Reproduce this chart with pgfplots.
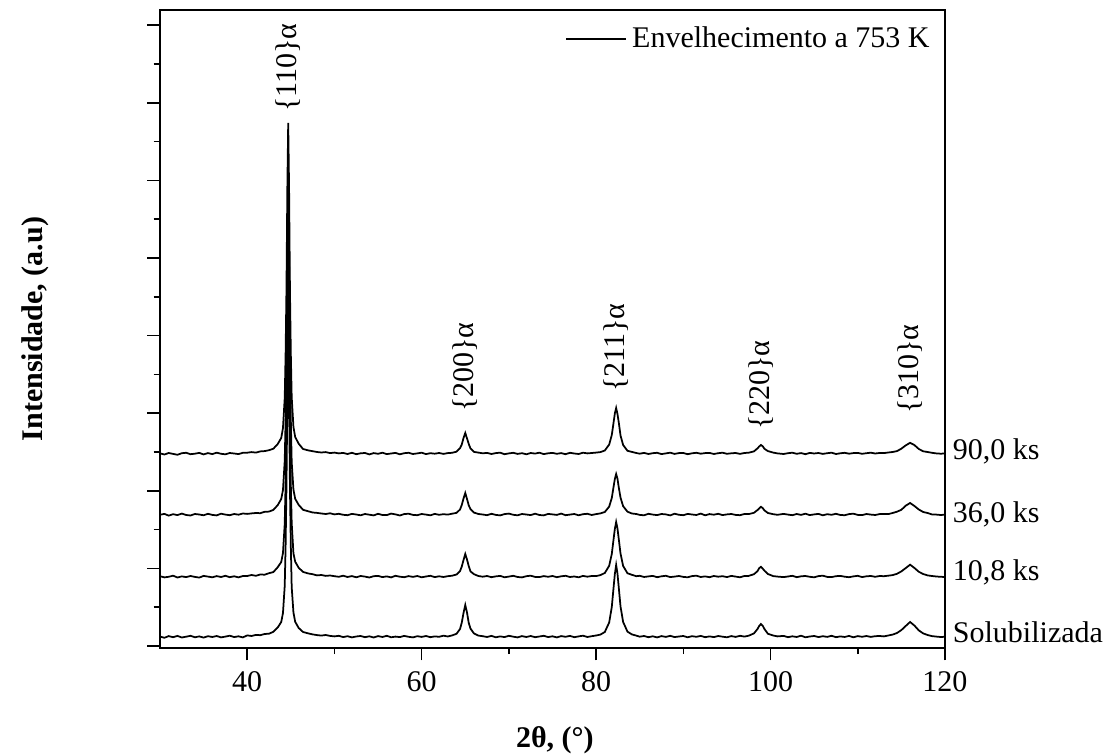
\documentclass[border=0pt]{standalone}
\usepackage{fontspec}
\setmainfont{Liberation Serif}
\usepackage{pgfplots}
\usepackage{pgfplotstable}
\pgfplotsset{compat=1.18}

% columns: 2theta, Solubilizada, 10,8 ks, 36,0 ks, 90,0 ks (already offset)
\pgfplotstableread{
x s0 s1 s2 s3
30.0 11.5 71.8 133.2 194.6
30.5 10.2 70.6 134.1 193.5
31.0 11.9 71.2 132.4 195.0
31.5 10.8 72.3 133.8 194.1
32.0 12.1 70.5 132.9 193.2
32.5 10.5 71.6 134.4 194.8
33.0 11.3 70.9 133.0 195.2
33.5 12.2 72.0 132.5 193.8
34.0 10.7 71.1 134.0 194.3
34.5 11.6 70.4 133.5 195.1
35.0 10.4 72.1 132.7 193.6
35.5 11.8 71.4 134.2 194.9
36.0 11.0 70.7 133.1 193.9
36.5 12.0 71.9 132.6 195.3
37.0 10.6 71.0 134.3 194.2
37.5 11.4 72.2 133.4 193.7
38.0 12.3 70.8 132.8 195.0
38.5 10.9 71.7 134.0 194.5
39.0 11.7 70.6 133.3 193.9
39.5 10.6 72.0 134.5 195.2
40.0 12.6 72.0 134.1 195.3
40.5 12.0 73.0 134.6 195.9
41.0 13.1 72.2 135.0 195.4
41.5 12.8 73.5 134.8 196.6
42.0 14.0 73.3 136.2 196.9
42.5 14.3 74.8 136.4 197.8
43.0 16.2 75.9 138.1 199.3
43.5 20.5 80.8 142.9 204.0
43.9 26.0 86.0 149.0 210.0
44.1 35.0 95.0 158.0 220.0
44.3 62.0 124.0 187.0 250.0
44.4 101.0 164.0 227.0 293.0
44.5 161.0 226.0 290.0 359.0
44.6 251.0 319.0 385.0 459.0
44.7 311.0 381.0 448.0 525.0
44.8 252.0 318.0 386.0 460.0
44.9 160.0 227.0 291.0 358.0
45.0 102.0 163.0 228.0 294.0
45.1 61.0 125.0 186.0 251.0
45.3 35.5 94.6 158.4 221.0
45.5 26.2 86.3 149.2 211.0
45.9 20.0 80.2 143.1 204.3
46.4 16.0 76.1 138.2 199.0
47.0 14.6 74.5 136.7 197.6
47.5 13.6 73.8 135.5 196.8
48.0 12.9 72.6 135.1 196.0
48.5 12.4 73.0 134.5 195.5
49.0 13.0 72.1 134.0 195.9
49.5 12.1 72.5 134.7 194.9
50.0 11.6 71.8 133.6 195.4
50.5 12.2 71.2 134.2 194.6
51.0 10.9 72.3 133.2 195.1
51.5 11.8 71.0 132.8 194.0
52.0 10.6 71.9 134.1 195.2
52.5 11.5 70.7 133.5 193.8
53.0 12.0 72.0 132.7 194.7
53.5 10.8 71.4 134.0 195.0
54.0 11.7 70.5 133.3 193.6
54.5 10.5 71.8 132.6 194.9
55.0 11.9 72.1 134.2 194.2
55.5 11.0 70.9 133.0 195.3
56.0 12.2 71.6 132.9 193.9
56.5 10.7 70.6 134.4 194.5
57.0 11.4 72.2 133.6 195.1
57.5 10.9 71.3 132.5 193.7
58.0 12.1 70.8 133.9 194.8
58.5 11.2 71.9 134.3 195.2
59.0 10.6 71.1 133.1 194.0
59.5 11.8 72.0 132.8 194.6
60.0 11.1 70.7 134.0 195.3
60.5 12.0 71.5 133.4 193.9
61.0 10.8 72.2 132.7 194.8
61.5 11.6 70.9 134.1 194.3
62.0 11.2 71.7 133.2 195.0
62.5 12.3 71.0 133.8 194.1
63.0 11.5 71.8 133.4 194.9
63.5 12.6 72.3 134.3 195.2
64.0 14.2 73.5 135.1 196.3
64.4 19.0 77.0 138.5 199.8
64.6 25.4 81.4 143.0 203.5
64.8 35.0 88.0 149.5 210.0
65.0 43.0 94.0 155.0 215.0
65.2 35.5 88.5 149.0 209.6
65.4 25.0 81.8 142.6 204.0
65.6 19.4 76.6 138.9 199.5
66.0 14.5 73.8 135.4 196.1
66.5 12.4 72.0 134.0 195.4
67.0 11.8 71.3 133.5 194.7
67.5 11.0 72.0 132.8 195.1
68.0 12.1 70.8 134.2 194.0
68.5 10.7 71.6 133.1 194.9
69.0 11.6 72.1 132.6 195.3
69.5 10.9 70.7 133.9 193.8
70.0 12.2 71.4 134.4 194.6
70.5 11.3 72.2 133.2 195.2
71.0 10.6 71.0 132.7 194.1
71.5 11.9 70.6 134.0 194.8
72.0 11.0 71.8 133.5 193.7
72.5 12.0 72.3 132.9 195.0
73.0 10.8 71.1 134.3 194.4
73.5 11.5 70.9 133.0 195.3
74.0 12.2 71.9 132.6 193.9
74.5 10.9 71.2 134.1 194.7
75.0 11.7 72.0 133.6 195.1
75.5 10.6 70.8 133.1 194.2
76.0 11.9 71.7 134.4 194.9
76.5 11.2 72.2 132.8 193.8
77.0 12.1 71.0 133.4 195.2
77.5 10.8 71.5 134.0 194.5
78.0 11.6 70.7 132.7 194.0
78.5 12.3 72.1 133.8 195.3
79.0 11.0 71.3 134.2 194.6
79.5 11.8 72.0 133.0 195.0
80.0 12.5 71.9 133.9 195.4
80.5 13.4 72.9 134.6 195.9
81.0 16.0 75.0 136.0 197.5
81.5 25.5 82.2 141.4 203.4
81.8 41.0 94.0 150.0 213.0
82.0 60.0 108.5 161.0 225.2
82.15 74.0 119.0 169.0 234.5
82.3 83.0 126.0 174.0 240.0
82.45 74.5 119.5 169.4 234.0
82.6 60.5 109.0 160.6 225.6
82.8 41.5 94.5 150.4 212.5
83.1 26.0 82.0 141.8 203.0
83.6 16.3 74.7 136.3 197.2
84.1 13.6 73.2 134.5 196.1
84.6 12.4 71.8 134.0 195.0
85.0 11.3 72.2 133.1 194.3
85.5 12.0 71.0 132.7 195.1
86.0 10.8 71.6 134.2 194.0
86.5 11.7 72.1 133.4 194.8
87.0 10.6 70.8 132.9 195.2
87.5 11.9 71.7 134.0 193.9
88.0 11.1 72.2 133.6 194.6
88.5 12.2 70.9 132.6 195.3
89.0 10.9 71.4 134.3 194.1
89.5 11.5 72.0 133.2 194.9
90.0 12.0 71.1 132.8 195.0
90.5 10.7 70.7 134.1 193.8
91.0 11.8 71.9 133.5 194.7
91.5 11.2 72.3 133.0 195.2
92.0 12.1 71.0 134.4 194.3
92.5 10.8 71.6 132.7 194.9
93.0 11.6 70.8 133.9 195.1
93.5 10.9 72.0 133.3 194.0
94.0 12.0 71.3 134.2 194.8
94.5 11.3 71.8 132.9 195.3
95.0 10.7 70.9 133.6 194.2
95.5 11.9 72.1 134.0 194.7
96.0 11.1 71.4 133.1 195.0
96.5 12.2 70.7 132.8 194.1
97.0 11.4 72.0 134.0 195.0
97.5 12.3 72.1 133.9 195.3
98.1 14.6 73.8 135.2 196.6
98.5 18.9 76.8 137.9 199.6
98.7 22.0 79.8 139.5 201.5
98.9 24.0 81.2 141.2 203.0
99.1 22.3 79.4 139.9 201.8
99.3 19.0 77.3 137.6 199.2
99.7 14.2 74.0 135.0 196.9
100.3 12.5 71.9 133.8 195.4
100.8 11.6 71.4 133.2 194.6
101.5 12.1 70.9 134.1 194.0
102.0 10.8 71.5 133.4 194.8
102.5 11.7 72.2 132.8 195.3
103.0 11.0 70.8 134.0 194.2
103.5 12.3 71.7 133.1 194.9
104.0 10.7 72.0 134.3 193.8
104.5 11.5 71.2 132.9 195.1
105.0 12.0 70.7 133.6 194.5
105.5 10.9 71.9 134.1 195.0
106.0 11.8 72.3 132.7 194.1
106.5 11.1 71.1 133.8 194.8
107.0 12.2 70.9 133.2 195.3
107.5 10.8 71.8 134.2 194.0
108.0 11.6 72.1 133.0 194.7
108.5 11.0 71.3 132.8 195.2
109.0 12.1 70.8 133.9 194.3
109.5 10.7 71.6 134.3 194.9
110.0 11.9 72.2 133.1 195.1
110.5 11.2 70.9 132.9 194.2
111.0 12.0 71.7 134.0 194.8
111.5 11.1 72.0 133.4 195.3
112.0 11.8 71.2 133.0 194.5
112.5 12.0 72.0 133.9 195.0
113.0 11.6 71.8 134.0 194.9
113.5 12.5 72.3 133.9 195.5
114.0 13.4 72.9 135.0 196.0
114.5 15.0 74.2 136.3 196.9
115.0 17.9 76.6 138.2 199.3
115.5 22.0 79.9 142.3 202.6
116.0 26.0 83.3 145.0 205.2
116.5 22.4 80.0 142.0 202.9
117.0 17.6 76.2 138.5 199.0
117.5 14.6 74.0 136.0 196.7
118.0 13.0 72.6 135.0 196.0
118.5 11.9 72.0 133.6 195.2
119.0 11.4 71.5 133.4 194.6
119.5 11.0 71.2 133.0 194.3
120.0 11.2 71.0 133.3 194.5
}\xrd

\begin{document}
\begin{tikzpicture}[font=\fontsize{12}{14}\selectfont]
\useasboundingbox (-64pt,-42.4pt) rectangle (378.4pt,259.2pt);
\begin{axis}[
  at={(0,0)}, anchor=south west,
  scale only axis,
  width=314pt, height=255.2pt,
  xmin=30, xmax=120,
  ymin=0, ymax=638,
  xtick={40,60,...,120},
  minor x tick num=1,
  ytick={2,79.6,...,623},
  minor y tick num=1,
  yticklabels={},
  xtick pos=left, ytick pos=left,
  tick align=outside,
  major tick length=5pt,
  minor tick length=2.5pt,
  every tick/.style={black, line width=0.6pt},
  axis line style={line width=0.6pt},
  /pgf/number format/assume math mode=true,
  ticklabel style={font=\fontsize{12}{14}\selectfont},
  xticklabel style={yshift=-1pt},
  xlabel={\textbf{2θ, (°)}},
  ylabel={\textbf{Intensidade, (a.u)}},
  xlabel style={at={(axis description cs:0.503,-0.144)}, anchor=center},
  ylabel style={at={(axis description cs:-0.159,0.5)}, anchor=center},
  clip=false,
  legend style={draw=none, fill=none, at={(0.997,0.99)}, anchor=north east,
    font=\fontsize{12}{14}\selectfont},
  legend image code/.code={\draw[#1] (0pt,0pt) -- (24pt,0pt);},
]
\addplot[black, line width=0.7pt] table[x=x, y=s3] {\xrd};
\addlegendentry{Envelhecimento a 753 K}
\addplot[black, line width=0.7pt, forget plot] table[x=x, y=s2] {\xrd};
\addplot[black, line width=0.7pt, forget plot] table[x=x, y=s1] {\xrd};
\addplot[black, line width=0.7pt, forget plot] table[x=x, y=s0] {\xrd};

% reflections
\node[rotate=90, anchor=west, inner sep=1pt] at (axis cs:44.7,533) {\{110\}α};
\node[rotate=90, anchor=west, inner sep=1pt] at (axis cs:65.0,233) {\{200\}α};
\node[rotate=90, anchor=west, inner sep=1pt] at (axis cs:82.3,253) {\{211\}α};
\node[rotate=90, anchor=west, inner sep=1pt] at (axis cs:98.9,215) {\{220\}α};
\node[rotate=90, anchor=west, inner sep=1pt] at (axis cs:116.0,231) {\{310\}α};

% sample labels
\node[anchor=west, inner sep=3pt] at (axis cs:120,197) {90,0 ks};
\node[anchor=west, inner sep=3pt] at (axis cs:120,134) {36,0 ks};
\node[anchor=west, inner sep=3pt] at (axis cs:120,76) {10,8 ks};
\node[anchor=west, inner sep=3pt] at (axis cs:120,16) {Solubilizada};
\end{axis}
\end{tikzpicture}
\end{document}
